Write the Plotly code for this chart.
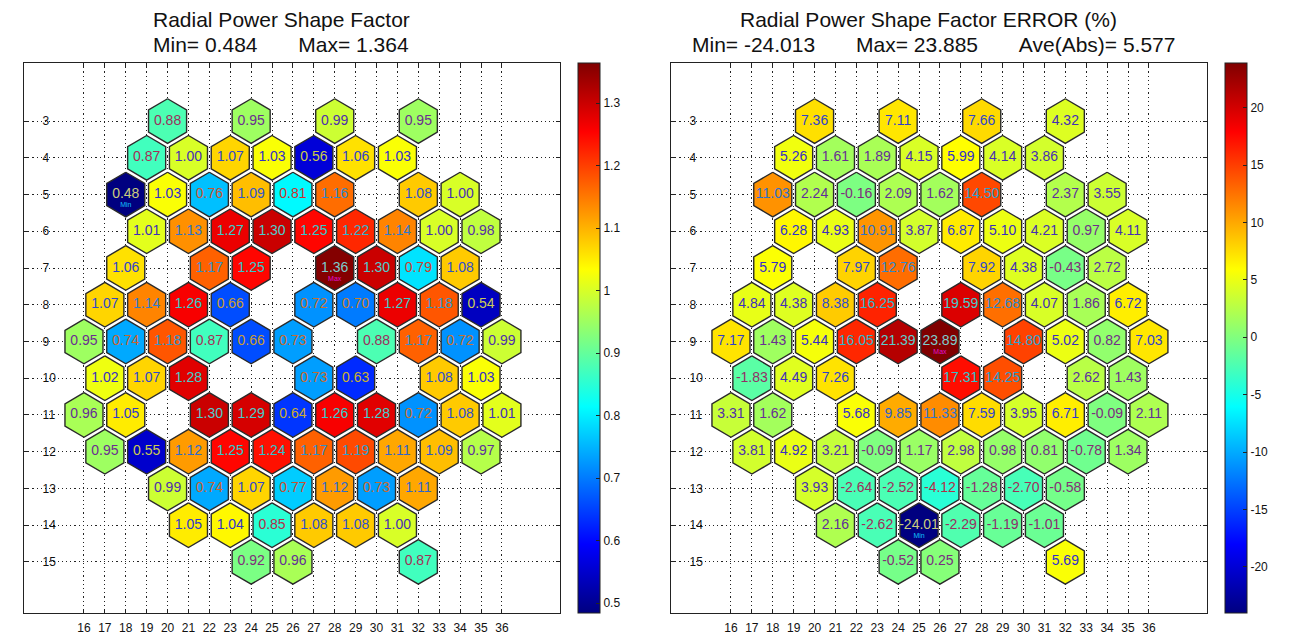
import plotly.graph_objects as go

# ---------------- data ----------------
row_numbers = [3, 4, 5, 6, 7, 8, 9, 10, 11, 12, 13, 14, 15]
row_columns = [
    [20, 24, 28, 32],
    [19, 21, 23, 25, 27, 29, 31],
    [18, 20, 22, 24, 26, 28, 32, 34],
    [19, 21, 23, 25, 27, 29, 31, 33, 35],
    [18, 22, 24, 28, 30, 32, 34],
    [17, 19, 21, 23, 27, 29, 31, 33, 35],
    [16, 18, 20, 22, 24, 26, 30, 32, 34, 36],
    [17, 19, 21, 27, 29, 33, 35],
    [16, 18, 22, 24, 26, 28, 30, 32, 34, 36],
    [17, 19, 21, 23, 25, 27, 29, 31, 33, 35],
    [20, 22, 24, 26, 28, 30, 32],
    [21, 23, 25, 27, 29, 31],
    [24, 26, 32],
]
rpsf_values = [
    [0.88, 0.95, 0.99, 0.95],
    [0.87, 1.00, 1.07, 1.03, 0.56, 1.06, 1.03],
    [0.48, 1.03, 0.76, 1.09, 0.81, 1.16, 1.08, 1.00],
    [1.01, 1.13, 1.27, 1.30, 1.25, 1.22, 1.14, 1.00, 0.98],
    [1.06, 1.17, 1.25, 1.36, 1.30, 0.79, 1.08],
    [1.07, 1.14, 1.26, 0.66, 0.72, 0.70, 1.27, 1.18, 0.54],
    [0.95, 0.74, 1.18, 0.87, 0.66, 0.73, 0.88, 1.17, 0.72, 0.99],
    [1.02, 1.07, 1.28, 0.73, 0.63, 1.08, 1.03],
    [0.96, 1.05, 1.30, 1.29, 0.64, 1.26, 1.28, 0.72, 1.08, 1.01],
    [0.95, 0.55, 1.12, 1.25, 1.24, 1.17, 1.19, 1.11, 1.09, 0.97],
    [0.99, 0.74, 1.07, 0.77, 1.12, 0.73, 1.11],
    [1.05, 1.04, 0.85, 1.08, 1.08, 1.00],
    [0.92, 0.96, 0.87],
]
error_values = [
    [7.36, 7.11, 7.66, 4.32],
    [5.26, 1.61, 1.89, 4.15, 5.99, 4.14, 3.86],
    [11.03, 2.24, -0.16, 2.09, 1.62, 14.50, 2.37, 3.55],
    [6.28, 4.93, 10.91, 3.87, 6.87, 5.10, 4.21, 0.97, 4.11],
    [5.79, 7.97, 12.76, 7.92, 4.38, -0.43, 2.72],
    [4.84, 4.38, 8.38, 16.25, 19.59, 12.68, 4.07, 1.86, 6.72],
    [7.17, 1.43, 5.44, 16.05, 21.39, 23.89, 14.80, 5.02, 0.82, 7.03],
    [-1.83, 4.49, 7.26, 17.31, 14.25, 2.62, 1.43],
    [3.31, 1.62, 5.68, 9.85, 11.33, 7.59, 3.95, 6.71, -0.09, 2.11],
    [3.81, 4.92, 3.21, -0.09, 1.17, 2.98, 0.98, 0.81, -0.78, 1.34],
    [3.93, -2.64, -2.52, -4.12, -1.28, -2.70, -0.58],
    [2.16, -2.62, -24.01, -2.29, -1.19, -1.01],
    [-0.52, 0.25, 5.69],
]
rpsf_min, rpsf_max = 0.484, 1.364
err_min, err_max, err_aveabs = -24.013, 23.885, 5.577
x_ticks = list(range(16, 37))
y_ticks = list(range(3, 16))
rpsf_cb_ticks = [0.5, 0.6, 0.7, 0.8, 0.9, 1.0, 1.1, 1.2, 1.3]
err_cb_ticks = [-20, -15, -10, -5, 0, 5, 10, 15, 20]

# ---------------- helpers ----------------
JET = [(0.0, (0, 0, 0.5)), (0.125, (0, 0, 1)), (0.375, (0, 1, 1)),
       (0.625, (1, 1, 0)), (0.875, (1, 0, 0)), (1.0, (0.5, 0, 0))]


def jet(t):
    t = min(max(t, 0.0), 1.0)
    for (t0, c0), (t1, c1) in zip(JET[:-1], JET[1:]):
        if t <= t1:
            f = (t - t0) / (t1 - t0)
            return tuple(a + (b - a) * f for a, b in zip(c0, c1))
    return JET[-1][1]


def rgb(c):
    return "rgb(%d,%d,%d)" % tuple(round(255 * v) for v in c)


jet_scale = [[t, rgb(c)] for t, c in JET]

FONT = "Liberation Sans, Arial, sans-serif"
W, H = 1292, 639
top_px, bot_px = 55, 605
ydom = [1 - bot_px / H, 1 - top_px / H]
left_dom = [16 / W, 552 / W]
right_dom = [663 / W, 1199 / W]

panels = [
    dict(vals=rpsf_values, vmin=rpsf_min, vmax=rpsf_max, xref="x", yref="y",
         cb_x=570, cbticks=rpsf_cb_ticks),
    dict(vals=error_values, vmin=err_min, vmax=err_max, xref="x2", yref="y2",
         cb_x=1217, cbticks=err_cb_ticks),
]

HW = 0.91      # half width of hexagon in column units
HR = 0.6067    # vertex half height in row units

fig = go.Figure()

for p in panels:
    xs_c, ys_c, texts, tcols, cvals = [], [], [], [], []
    flat = [(r, c, v) for r, cols, vals in zip(row_numbers, row_columns, p["vals"])
            for c, v in zip(cols, vals)]
    vmin_v = min(v for _, _, v in flat)
    vmax_v = max(v for _, _, v in flat)
    for r, c, v in flat:
        t = (v - p["vmin"]) / (p["vmax"] - p["vmin"])
        fc = jet(t)
        hx = [c, c + HW, c + HW, c, c - HW, c - HW, c]
        hy = [r - HR, r - HR / 2, r + HR / 2, r + HR, r + HR / 2, r - HR / 2, r - HR]
        fig.add_trace(go.Scatter(x=hx, y=hy, mode="lines", fill="toself", fillcolor=rgb(fc),
                                 line=dict(color="#2a2a2a", width=1.4), hoverinfo="skip",
                                 showlegend=False, xaxis=p["xref"], yaxis=p["yref"]))
        xs_c.append(c)
        ys_c.append(r)
        texts.append("%.2f" % v)
        tc = tuple(0.18 + 0.62 * (1 - a) for a in fc)
        tcols.append(rgb(tc))
        cvals.append(v)
    fig.add_trace(go.Scatter(
        x=xs_c, y=ys_c, mode="markers+text", text=texts, textposition="middle center",
        textfont=dict(family=FONT, size=14, color=tcols),
        marker=dict(size=2, opacity=0, color=cvals, colorscale=jet_scale,
                    cmin=p["vmin"], cmax=p["vmax"], showscale=True,
                    colorbar=dict(x=p["cb_x"] / W, xanchor="left", xpad=0, thickness=22,
                                  thicknessmode="pixels", len=(bot_px - top_px) / H,
                                  lenmode="fraction", y=(ydom[0] + ydom[1]) / 2,
                                  yanchor="middle", ypad=0,
                                  outlinecolor="#222", outlinewidth=1,
                                  tickvals=p["cbticks"],
                                  ticktext=[("%g" % v) for v in p["cbticks"]],
                                  ticks="inside", ticklen=4, tickcolor="#222",
                                  tickfont=dict(family=FONT, size=12, color="#111"))),
        hoverinfo="skip", showlegend=False, xaxis=p["xref"], yaxis=p["yref"]))
    # Min / Max labels
    for r, c, v in flat:
        if v == vmin_v or v == vmax_v:
            lab = "Min" if v == vmin_v else "Max"
            col = "#10c0ff" if lab == "Min" else "#e010d0"
            fig.add_trace(go.Scatter(x=[c], y=[r + 0.3], mode="text", text=[lab],
                                     textfont=dict(family=FONT, size=7, color=col),
                                     hoverinfo="skip", showlegend=False,
                                     xaxis=p["xref"], yaxis=p["yref"]))

xaxis_common = dict(showgrid=True, griddash="1.2px,3px", gridcolor="#222", gridwidth=1.2,
                    zeroline=False, showline=True, mirror="ticks", linecolor="#222",
                    linewidth=1, ticks="inside", ticklen=4, tickcolor="#222",
                    ticklabelstandoff=4,
                    tickfont=dict(family=FONT, size=12, color="#111"))
yaxis_common = dict(showgrid=True, griddash="1.2px,3px", gridcolor="#222", gridwidth=1.2,
                    zeroline=False, showline=True, mirror="ticks", linecolor="#222",
                    linewidth=1, ticks="inside", ticklen=4, tickcolor="#222",
                    ticklabelposition="inside", ticklabelstandoff=14,
                    tickfont=dict(family=FONT, size=12, color="#111"))

xr = [13.13, 38.78]
yr = [16.39, 1.42]
fig.update_layout(
    width=W, height=H, margin=dict(l=0, r=0, t=0, b=0),
    paper_bgcolor="white", plot_bgcolor="white",
    xaxis=dict(domain=left_dom, range=xr, tickvals=x_ticks, anchor="y", **xaxis_common),
    yaxis=dict(domain=ydom, range=yr, tickvals=y_ticks, anchor="x", **yaxis_common),
    xaxis2=dict(domain=right_dom, range=xr, tickvals=x_ticks, anchor="y2", **xaxis_common),
    yaxis2=dict(domain=ydom, range=yr, tickvals=y_ticks, anchor="x2", **yaxis_common),
)

nb = "\u00a0"
titles = [
    (273 / W, 273 / W, "Radial Power Shape Factor",
     "Min= %.3f" % rpsf_min + nb * 7 + "Max= %.3f" % rpsf_max),
    (920 / W, 926 / W, "Radial Power Shape Factor ERROR (%)",
     "Min= %.3f" % err_min + nb * 7 + "Max= %.3f" % err_max + nb * 7
     + "Ave(Abs)= %.3f" % err_aveabs),
]
for xc1, xc2, t1, t2 in titles:
    fig.add_annotation(x=xc1, y=1 - 11 / H, xref="paper", yref="paper", text=t1,
                       showarrow=False, xanchor="center", yanchor="middle",
                       font=dict(family=FONT, size=21, color="#111"))
    fig.add_annotation(x=xc2, y=1 - 36 / H, xref="paper", yref="paper", text=t2,
                       showarrow=False, xanchor="center", yanchor="middle",
                       font=dict(family=FONT, size=21, color="#111"))

fig.write_html("out.html")
